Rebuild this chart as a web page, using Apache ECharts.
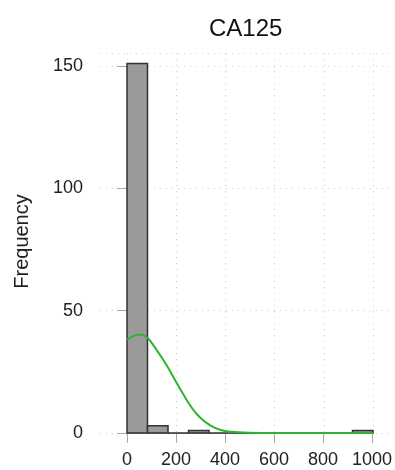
<!DOCTYPE html>
<html>
<head>
<meta charset="utf-8">
<script src="https://cdn.jsdelivr.net/npm/echarts@6/dist/echarts.min.js"></script>
<style>html,body{margin:0;padding:0;background:#fff}#c{width:395px;height:470px}</style>
</head>
<body>
<div id="c"></div>
<script>
// Histogram bins (CA125) and counts
const binStarts = [0, 83.3, 166.7, 250, 333.3, 416.7, 500, 583.3, 666.7, 750, 833.3, 916.7];
const binEnds   = [83.3, 166.7, 250, 333.3, 416.7, 500, 583.3, 666.7, 750, 833.3, 916.7, 1000];
const counts    = [151, 3, 0, 1, 0, 0, 0, 0, 0, 0, 0, 1];
// Density curve (scaled to frequency)
const curveX = [0, 25, 50, 80, 120, 160, 195, 230, 265, 300, 340, 380, 420, 500, 600, 700, 800, 900, 1000];
const curveY = [38.1, 39.6, 40.3, 39.2, 34.0, 27.9, 21.7, 15.6, 10.1, 6.0, 3.0, 1.2, 0.5, 0.1, 0, 0, 0, 0, 0];
// Tick labels
const xTicks = [0, 200, 400, 600, 800, 1000];
const yTicks = [0, 50, 100, 150];

const FONT = "'Liberation Sans', Arial, sans-serif";
const chart = echarts.init(document.getElementById('c'), null, {renderer: 'canvas'});

const histData = counts.map((c, i) => [binStarts[i], binEnds[i], c]);
const curveData = curveX.map((x, i) => [x, curveY[i]]);

chart.setOption({
  animation: false,
  backgroundColor: '#ffffff',
  title: {
    text: 'CA125', left: 204, top: 12,
    textStyle: {fontFamily: FONT, fontSize: 24, fontWeight: 'normal', color: '#111'}
  },
  grid: [
    {left: 100, right: 5, top: 53, bottom: 37},
    {left: 127, right: 22, top: 66, bottom: 37}
  ],
  xAxis: [
    {
      gridIndex: 0, type: 'value', min: -109.8, max: 1069.1,
      axisLine: {show: false}, axisLabel: {show: false},
      axisTick: {show: false, customValues: xTicks},
      splitLine: {show: true, lineStyle: {color: '#cfcfcf', type: [1, 5], width: 1}}
    },
    {
      gridIndex: 1, type: 'value', min: 0, max: 1000, interval: 200, offset: 2,
      axisLine: {show: true, lineStyle: {color: '#a8a8a8', width: 1}},
      axisTick: {show: true, length: 10, inside: false, lineStyle: {color: '#a8a8a8'}},
      axisLabel: {show: true, margin: 16, fontFamily: FONT, fontSize: 18, color: '#222',
        formatter: function (v) { return String(v); }},
      splitLine: {show: false}
    }
  ],
  yAxis: [
    {
      gridIndex: 0, type: 'value', min: 0, max: 155.3, interval: 50,
      axisLine: {show: false}, axisLabel: {show: false}, axisTick: {show: false},
      splitLine: {show: true, lineStyle: {color: '#cfcfcf', type: [1, 5], width: 1}}
    },
    {
      gridIndex: 1, type: 'value', min: 0, max: 150, interval: 50, offset: 27,
      name: 'Frequency', nameLocation: 'middle', nameGap: 68,
      nameTextStyle: {fontFamily: FONT, fontSize: 20, color: '#222', padding: [0, 0, 0, 16]},
      axisLine: {show: true, lineStyle: {color: '#a8a8a8', width: 1}},
      axisTick: {show: true, length: 10, lineStyle: {color: '#a8a8a8'}},
      axisLabel: {show: true, margin: 17, fontFamily: FONT, fontSize: 18, color: '#222',
        formatter: function (v) { return String(v); }},
      splitLine: {show: false}
    }
  ],
  series: [
    {
      type: 'custom', xAxisIndex: 0, yAxisIndex: 0, z: 2,
      data: histData,
      renderItem: function (params, api) {
        const p0 = api.coord([api.value(0), api.value(2)]);
        const p1 = api.coord([api.value(1), 0]);
        return {
          type: 'rect',
          shape: {x: p0[0], y: p0[1], width: p1[0] - p0[0], height: p1[1] - p0[1]},
          style: {fill: '#9a9a9a', stroke: '#333333', lineWidth: 1.5}
        };
      }
    },
    {
      type: 'line', xAxisIndex: 0, yAxisIndex: 0, z: 3,
      data: curveData, smooth: 0.4, showSymbol: false, symbol: 'none',
      lineStyle: {color: '#2db52d', width: 2}
    }
  ]
});
</script>
</body>
</html>
